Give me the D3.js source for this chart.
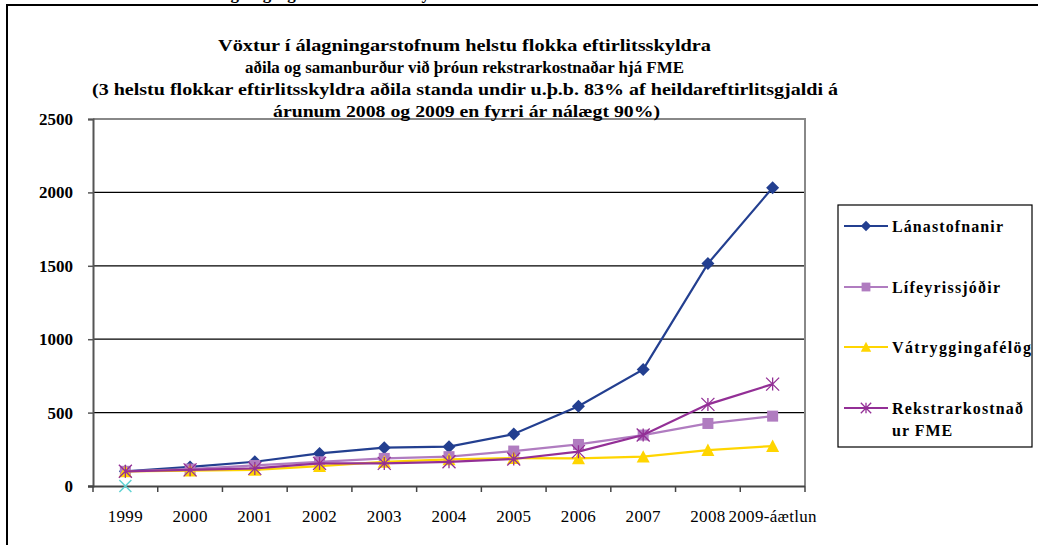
<!DOCTYPE html>
<html><head><meta charset="utf-8">
<script src="https://cdn.jsdelivr.net/npm/d3@7/dist/d3.min.js"></script>
<style>html,body{margin:0;padding:0;background:#fff;overflow:hidden}svg{display:block}
svg text{font-family:"Liberation Serif","Tinos","Times New Roman",Times,"Nimbus Roman","Nimbus Roman No9 L",FreeSerif,"Noto Serif","DejaVu Serif",Georgia,serif !important;}</style>
</head><body>
<script>
const categories = ["1999","2000","2001","2002","2003","2004","2005","2006","2007","2008","2009-áætlun"];
const lanastofnanir = [100,130,165,222,261,268,354,544,794,1515,2032];
const lifeyrissjodir = [100,115,140,165,188,200,238,283,347,426,476];
const vatryggingafelog = [100,105,110,136,165,181,190,188,200,245,272];
const rekstrarkostnadur = [100,110,120,154,154,165,184,234,347,556,694];
const teal = [0];
const yTicks = [0,500,1000,1500,2000,2500];
const titleLines = [
  "Vöxtur í álagningarstofnum helstu flokka eftirlitsskyldra",
  "aðila og samanburður við þróun rekstrarkostnaðar hjá FME",
  "(3 helstu flokkar eftirlitsskyldra aðila standa undir u.þ.b. 83% af heildareftirlitsgjaldi á",
  "árunum 2008 og 2009 en fyrri ár nálægt 90%)"
];
const seriesNames = ["Lánastofnanir","Lífeyrissjóðir","Vátryggingafélög","Rekstrarkostnaður FME"];

const W=1038,H=545;
const svg=d3.select("body").append("svg").attr("width",W).attr("height",H);

// outer frame (partial)
svg.append("path").attr("d","M7,545 L7,5 L1038,5").attr("fill","none").attr("stroke","#000").attr("stroke-width",2);
// cut-off caption above the frame
svg.append("text").attr("x",205).attr("y",-1).attr("font-weight","bold").attr("font-size",17)
  .text("Álagningargrunnur eftirlitsskyldra aðila");

const L=93,R=805,T=119,B=486;
const x=d3.scaleBand().domain(categories).range([L,R]);
const y=d3.scaleLinear().domain([0,2500]).range([B,T]);

// gridlines
svg.append("g").selectAll("line").data(yTicks.filter(d=>d>0&&d<2500)).join("line")
  .attr("x1",L).attr("x2",R).attr("y1",d=>y(d)).attr("y2",d=>y(d)).attr("stroke","#000").attr("stroke-width",1.2);
// plot border top/right
svg.append("path").attr("d",`M${L},${T} L${R},${T} L${R},${B}`).attr("fill","none").attr("stroke","#888").attr("stroke-width",2);

// y axis
const ya=svg.append("g").attr("transform",`translate(${L},0)`).call(d3.axisLeft(y).tickValues(yTicks).tickFormat(d3.format("d")).tickSize(5).tickPadding(15));
ya.select(".domain").attr("stroke","#555").attr("stroke-width",2);
ya.selectAll(".tick line").attr("stroke","#555").attr("stroke-width",1.5);
ya.selectAll("text").attr("font-weight","bold").attr("font-size",17).attr("fill","#000");

// x axis
const xa=svg.append("g").attr("transform",`translate(0,${B})`).call(d3.axisBottom(x).tickSize(0).tickPadding(24));
xa.select(".domain").attr("stroke","#444").attr("stroke-width",2).attr("d",`M${L-5},0.5H${R}`);
xa.selectAll("text").attr("font-size",17).attr("fill","#000").attr("letter-spacing","0.3px");
const bounds=categories.map(c=>x(c)).concat([R]);
svg.append("g").selectAll("line").data(bounds).join("line")
  .attr("x1",d=>d).attr("x2",d=>d).attr("y1",B).attr("y2",B+6).attr("stroke","#444").attr("stroke-width",1.5);

const cx=i=>x(categories[i])+x.bandwidth()/2;
const line=d3.line().x((d,i)=>cx(i)).y(d=>y(d));

function marker(g,type,color,px,py,s){
  s=s||1;
  if(type==="diamond"){
    const r=6.5*s;
    g.append("path").attr("d",`M${px},${py-r}L${px+r},${py}L${px},${py+r}L${px-r},${py}Z`).attr("fill",color);
  } else if(type==="square"){
    const r=5.5*s;
    g.append("rect").attr("x",px-r).attr("y",py-r).attr("width",2*r).attr("height",2*r).attr("fill",color);
  } else if(type==="triangle"){
    const r=6.5*s;
    g.append("path").attr("d",`M${px},${py-r}L${px+r},${py+r*0.9}L${px-r},${py+r*0.9}Z`).attr("fill",color);
  } else if(type==="star"){
    const r=6.5*s;
    g.append("path").attr("d",`M${px-r},${py-r}L${px+r},${py+r}M${px-r},${py+r}L${px+r},${py-r}M${px},${py-r}L${px},${py+r}`)
      .attr("stroke",color).attr("stroke-width",1.3).attr("fill","none");
  } else if(type==="x"){
    const r=6;
    g.append("path").attr("d",`M${px-r},${py-r}L${px+r},${py+r}M${px-r},${py+r}L${px+r},${py-r}`)
      .attr("stroke",color).attr("stroke-width",1.5).attr("fill","none");
  }
}

const series=[
  {name:seriesNames[0],data:lanastofnanir,color:"#233f90",m:"diamond"},
  {name:seriesNames[1],data:lifeyrissjodir,color:"#b07cc0",m:"square"},
  {name:seriesNames[2],data:vatryggingafelog,color:"#ffd500",m:"triangle"},
  {name:seriesNames[3],data:rekstrarkostnadur,color:"#932f96",m:"star"}
];
series.forEach(s=>{
  const g=svg.append("g");
  g.append("path").datum(s.data).attr("d",line).attr("fill","none").attr("stroke",s.color).attr("stroke-width",2.2);
  s.data.forEach((v,i)=>marker(g,s.m,s.color,cx(i),y(v)));
});
teal.forEach((v,i)=>marker(svg.append("g"),"x","#5fd3d3",cx(i),y(v)));

// title
const tw=[[218,711],[245,684],[92,838],[273,660]];
const ty=[51,73,95,117];
titleLines.forEach((t,i)=>{
  svg.append("text").attr("x",tw[i][0]).attr("y",ty[i]).attr("font-weight","bold")
    .attr("font-size",17).attr("textLength",tw[i][1]-tw[i][0]).attr("lengthAdjust","spacingAndGlyphs").text(t);
});

// legend
svg.append("rect").attr("x",838).attr("y",205).attr("width",194).attr("height",242).attr("fill","#fff").attr("stroke","#000").attr("stroke-width",1.2);
const ly=[226,287,347,408];
const labels=[["Lánastofnanir"],["Lífeyrissjóðir"],["Vátryggingafélög"],["Rekstrarkostnað","ur FME"]];
const lw=[111,108,139,131];
series.forEach((s,i)=>{
  const g=svg.append("g");
  g.append("line").attr("x1",844).attr("x2",888).attr("y1",ly[i]).attr("y2",ly[i]).attr("stroke",s.color).attr("stroke-width",2.2);
  marker(g,s.m,s.color,866,ly[i],0.8);
  labels[i].forEach((t,j)=>{
    const tx=g.append("text").attr("x",892).attr("y",ly[i]+6+j*22).attr("font-weight","bold").attr("font-size",16).text(t);
    if(j===0) tx.attr("textLength",lw[i]).attr("lengthAdjust","spacing");
    else tx.attr("letter-spacing","1px");
  });
});
</script>
</body></html>
